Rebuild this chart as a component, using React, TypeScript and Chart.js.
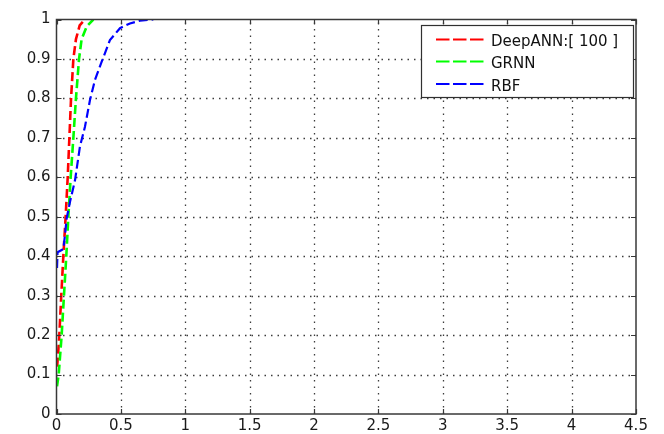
import React, { useEffect, useRef } from 'react';
import { Chart, registerables } from 'chart.js';

Chart.register(...registerables);

// ---- data ----
const seriesLabels = ['DeepANN:[ 100 ]', 'GRNN', 'RBF'];
const seriesColors = ['#ff0000', '#00ff00', '#0000ff'];

const deepAnnX = [0.005, 0.012, 0.022, 0.037, 0.053, 0.071, 0.087, 0.1, 0.113, 0.131, 0.151, 0.18, 0.221];
const deepAnnY = [0.12, 0.15, 0.2, 0.3, 0.4, 0.5, 0.6, 0.7, 0.8, 0.9, 0.95, 0.985, 1.0];

const grnnX = [0.004, 0.017, 0.04, 0.058, 0.076, 0.092, 0.11, 0.131, 0.151, 0.175, 0.195, 0.234, 0.286];
const grnnY = [0.07, 0.1, 0.2, 0.3, 0.4, 0.5, 0.6, 0.7, 0.8, 0.9, 0.95, 0.982, 1.0];

const rbfX = [0.004, 0.008, 0.03, 0.053, 0.066, 0.079, 0.105, 0.144, 0.182, 0.221, 0.26, 0.299, 0.351, 0.415, 0.493, 0.57, 0.648, 0.752];
const rbfY = [0.37, 0.41, 0.414, 0.418, 0.454, 0.496, 0.538, 0.593, 0.678, 0.728, 0.796, 0.847, 0.893, 0.948, 0.978, 0.99, 0.997, 1.0];

const xTickLabels = ['0', '0.5', '1', '1.5', '2', '2.5', '3', '3.5', '4', '4.5'];
const yTickLabels = ['0', '0.1', '0.2', '0.3', '0.4', '0.5', '0.6', '0.7', '0.8', '0.9', '1'];

const FONT = '"DejaVu Sans", sans-serif';

const toPoints = (xs: number[], ys: number[]) => xs.map((x, i) => ({ x, y: ys[i] }));

const framePlugin = {
  id: 'matlabFrame',
  beforeDraw(chart: any) {
    const ctx = chart.ctx;
    ctx.save();
    ctx.fillStyle = '#ffffff';
    ctx.fillRect(0, 0, chart.width, chart.height);
    ctx.restore();
  },
  beforeDatasetsDraw(chart: any) {
    const { ctx, chartArea: a, scales } = chart;
    const xs = scales.x;
    const ys = scales.y;
    ctx.save();
    ctx.strokeStyle = '#3c3c3c';
    ctx.lineWidth = 1.3;
    ctx.setLineDash([1.5, 5]);
    xs.ticks.forEach((t: any) => {
      if (t.value <= xs.min + 1e-9 || t.value >= xs.max - 1e-9) return;
      const px = Math.round(xs.getPixelForValue(t.value)) + 0.5;
      ctx.beginPath();
      ctx.moveTo(px, a.bottom);
      ctx.lineTo(px, a.top);
      ctx.stroke();
    });
    ys.ticks.forEach((t: any) => {
      if (t.value <= ys.min + 1e-9 || t.value >= ys.max - 1e-9) return;
      const py = Math.round(ys.getPixelForValue(t.value)) + 0.5;
      ctx.beginPath();
      ctx.moveTo(a.left, py);
      ctx.lineTo(a.right, py);
      ctx.stroke();
    });
    ctx.restore();
  },
  afterDatasetsDraw(chart: any) {
    const { ctx, chartArea: a, scales } = chart;
    const xs = scales.x;
    const ys = scales.y;
    ctx.save();
    ctx.setLineDash([]);
    ctx.strokeStyle = '#383838';
    ctx.lineWidth = 1.5;
    ctx.strokeRect(a.left, a.top, a.right - a.left, a.bottom - a.top);
    const tl = 5;
    ctx.lineWidth = 1.2;
    xs.ticks.forEach((t: any) => {
      const px = Math.round(xs.getPixelForValue(t.value)) + 0.5;
      ctx.beginPath();
      ctx.moveTo(px, a.bottom);
      ctx.lineTo(px, a.bottom - tl);
      ctx.moveTo(px, a.top);
      ctx.lineTo(px, a.top + tl);
      ctx.stroke();
    });
    ys.ticks.forEach((t: any) => {
      const py = Math.round(ys.getPixelForValue(t.value)) + 0.5;
      ctx.beginPath();
      ctx.moveTo(a.left, py);
      ctx.lineTo(a.left + tl, py);
      ctx.moveTo(a.right, py);
      ctx.lineTo(a.right - tl, py);
      ctx.stroke();
    });

    // legend box (MATLAB style)
    const bx = 421, by = 25, bw = 212, bh = 72;
    ctx.fillStyle = '#ffffff';
    ctx.fillRect(bx, by, bw, bh);
    ctx.strokeStyle = '#303030';
    ctx.lineWidth = 1.2;
    ctx.strokeRect(bx + 0.5, by + 0.5, bw, bh);
    const rowY = [39.5, 61.5, 84];
    chart.data.datasets.forEach((ds: any, i: number) => {
      const y = rowY[i];
      ctx.strokeStyle = ds.borderColor;
      ctx.lineWidth = 2;
      ctx.setLineDash([13.5, 3.5]);
      ctx.beginPath();
      ctx.moveTo(436, y);
      ctx.lineTo(484, y);
      ctx.stroke();
      ctx.setLineDash([]);
      ctx.fillStyle = '#111111';
      ctx.font = `15px ${FONT}`;
      ctx.textAlign = 'left';
      ctx.textBaseline = 'alphabetic';
      ctx.fillText(ds.label, 491, y + 6.5);
    });
    ctx.restore();
  },
};

export default function App() {
  const ref = useRef<HTMLCanvasElement | null>(null);
  useEffect(() => {
    document.body.style.margin = '0';
    const canvas = ref.current;
    if (!canvas) return;
    const widths = [2.6, 2.6, 2.2];
    const datasets = [
      { x: deepAnnX, y: deepAnnY },
      { x: grnnX, y: grnnY },
      { x: rbfX, y: rbfY },
    ].map((s, i) => ({
      label: seriesLabels[i],
      data: toPoints(s.x, s.y),
      borderColor: seriesColors[i],
      backgroundColor: seriesColors[i],
      borderWidth: widths[i],
      borderDash: [9, 4],
      showLine: true,
      pointRadius: 0,
      pointHoverRadius: 0,
      tension: 0,
      fill: false,
      order: 2 - i,
    }));
    const chart = new Chart(canvas, {
      type: 'scatter',
      data: { datasets },
      plugins: [framePlugin],
      options: {
        animation: false,
        responsive: false,
        devicePixelRatio: 1,
        layout: { padding: { left: 0, top: 19.5, right: 28, bottom: 0 } },
        plugins: { legend: { display: false }, tooltip: { enabled: false } },
        scales: {
          x: {
            type: 'linear',
            min: 0,
            max: 4.5,
            grid: { display: false, drawTicks: false, tickLength: 0 },
            border: { display: false },
            ticks: {
              stepSize: 0.5,
              autoSkip: false,
              maxRotation: 0,
              padding: 3,
              color: '#1a1a1a',
              font: { family: FONT, size: 15 },
              callback: (_v: any, i: number) => xTickLabels[i],
            },
            afterFit: (s: any) => {
              s.height = 20;
              s.paddingLeft = 0;
              s.paddingRight = 0;
            },
          },
          y: {
            type: 'linear',
            min: 0,
            max: 1,
            grid: { display: false, drawTicks: false, tickLength: 0 },
            border: { display: false },
            ticks: {
              stepSize: 0.1,
              autoSkip: false,
              padding: 6,
              color: '#1a1a1a',
              font: { family: FONT, size: 15 },
              callback: (_v: any, i: number) => yTickLabels[i],
            },
            afterFit: (s: any) => {
              s.width = 56.5;
              s.paddingTop = 0;
              s.paddingBottom = 0;
            },
          },
        },
      } as any,
    });
    return () => chart.destroy();
  }, []);
  return (
    <div style={{ width: 664, height: 434 }}>
      <canvas ref={ref} width={664} height={434} />
    </div>
  );
}
